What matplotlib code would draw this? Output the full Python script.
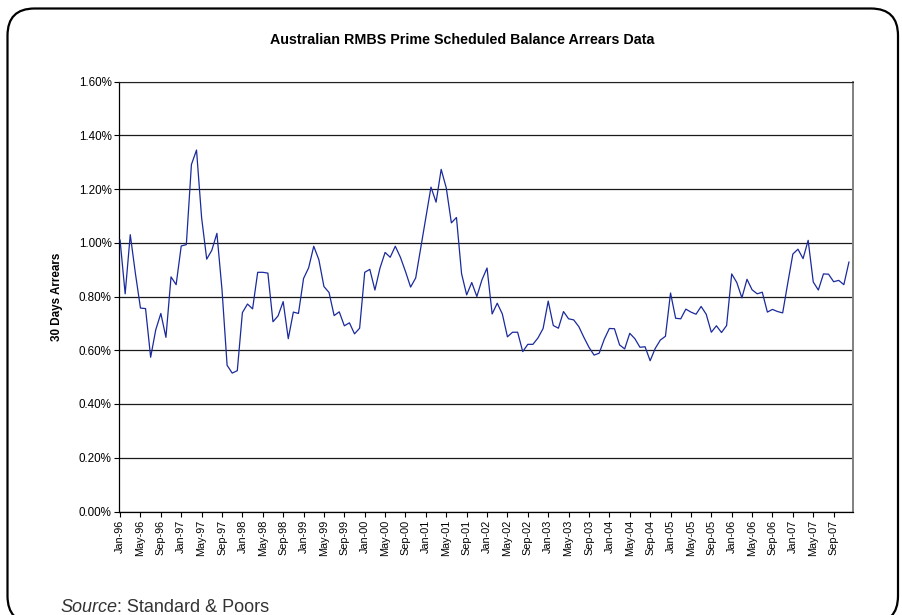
import matplotlib
matplotlib.use("Agg")
import matplotlib.pyplot as plt
from matplotlib.patches import FancyBboxPatch
from matplotlib.ticker import FuncFormatter

plt.rcParams['font.family'] = ['Liberation Sans', 'DejaVu Sans']

title = "Australian RMBS Prime Scheduled Balance Arrears Data"
y_label = "30 Days Arrears"
source_label = "Source"
source_rest = ": Standard & Poors"

# Monthly values Jan-96 .. Dec-07 (percent)
arrears = [
    1.010, 0.810, 1.030, 0.887, 0.757, 0.755, 0.574, 0.676, 0.737, 0.648, 0.873, 0.844,
    0.988, 0.993, 1.291, 1.345, 1.093, 0.939, 0.972, 1.035, 0.825, 0.544, 0.515, 0.524,
    0.740, 0.772, 0.754, 0.890, 0.890, 0.887, 0.706, 0.728, 0.781, 0.643, 0.742, 0.737,
    0.867, 0.907, 0.987, 0.937, 0.837, 0.815, 0.729, 0.743, 0.691, 0.702, 0.661, 0.682,
    0.890, 0.901, 0.824, 0.906, 0.964, 0.946, 0.987, 0.946, 0.893, 0.835, 0.869, 0.981,
    1.093, 1.207, 1.151, 1.273, 1.204, 1.074, 1.094, 0.885, 0.806, 0.852, 0.800, 0.862,
    0.906, 0.735, 0.775, 0.735, 0.650, 0.667, 0.667, 0.595, 0.622, 0.622, 0.646, 0.681,
    0.783, 0.692, 0.682, 0.744, 0.717, 0.713, 0.688, 0.648, 0.611, 0.582, 0.589, 0.641,
    0.681, 0.680, 0.620, 0.605, 0.663, 0.643, 0.611, 0.613, 0.561, 0.607, 0.638, 0.652,
    0.813, 0.719, 0.717, 0.753, 0.742, 0.734, 0.763, 0.734, 0.667, 0.691, 0.666, 0.692,
    0.884, 0.852, 0.795, 0.864, 0.825, 0.810, 0.816, 0.742, 0.752, 0.744, 0.739, 0.850,
    0.958, 0.976, 0.941, 1.009, 0.854, 0.824, 0.884, 0.883, 0.855, 0.860, 0.844, 0.928,
]

tick_labels = [
    "Jan-96", "May-96", "Sep-96", "Jan-97", "May-97", "Sep-97", "Jan-98", "May-98", "Sep-98",
    "Jan-99", "May-99", "Sep-99", "Jan-00", "May-00", "Sep-00", "Jan-01", "May-01", "Sep-01",
    "Jan-02", "May-02", "Sep-02", "Jan-03", "May-03", "Sep-03", "Jan-04", "May-04", "Sep-04",
    "Jan-05", "May-05", "Sep-05", "Jan-06", "May-06", "Sep-06", "Jan-07", "May-07", "Sep-07",
]
tick_step = 4
y_ticks = [0.0, 0.2, 0.4, 0.6, 0.8, 1.0, 1.2, 1.4, 1.6]

W, H = 902, 615
fig = plt.figure(figsize=(W / 100, H / 100), dpi=100)

# rounded outer frame
frame = FancyBboxPatch((7.5 / W, -8 / H), (898 - 7.5) / W, (H - 8.5 + 8) / H,
                       boxstyle="round,pad=0,rounding_size=0.03",
                       transform=fig.transFigure, fill=False, ec='black', lw=1.6,
                       mutation_aspect=W / H, clip_on=False)
fig.patches.append(frame)

left, right, top, bottom = 119.3, 852.5, 81.5, 511.5
ax = fig.add_axes([left / W, 1 - bottom / H, (right - left) / W, (bottom - top) / H])

x = list(range(len(arrears)))
ax.plot(x, arrears, color='#1a2a9c', lw=0.9, zorder=3)

ax.set_xlim(-0.15, 143.7)
ax.set_ylim(0, 1.6)
ax.set_yticks(y_ticks)
ax.yaxis.set_major_formatter(FuncFormatter(lambda v, p: f"{v:.2f}%"))
ax.set_xticks(list(range(0, len(tick_labels) * tick_step, tick_step)))
ax.set_xticklabels(tick_labels, rotation=90)

ax.grid(axis='y', color='#1a1a1a', lw=0.9)
ax.set_axisbelow(True)

for s in ['left', 'bottom']:
    ax.spines[s].set_color('black')
    ax.spines[s].set_linewidth(0.9)
ax.spines['top'].set_color('#222222')
ax.spines['top'].set_linewidth(0.8)
ax.spines['right'].set_color('#808080')
ax.spines['right'].set_linewidth(1.4)

ax.tick_params(axis='both', direction='out', length=3.5, width=0.8,
               colors='black', pad=2)
ax.tick_params(axis='y', labelsize=8.4)
ax.tick_params(axis='x', labelsize=7.8, pad=2.5)

ax.set_ylabel(y_label, fontsize=8.4, fontweight='bold')
ax.yaxis.set_label_coords((63 - left) / (right - left), 0.5)

fig.text(462 / W, 1 - 40 / H, title, ha='center', va='center', fontsize=10.3,
         fontweight='bold')

t1 = fig.text(60 / W, 1 - 612 / H, source_label, ha='left', va='baseline', fontsize=13,
              style='italic', color='#333333')
fig.canvas.draw()
ax.annotate(source_rest, xy=(1, 0), xycoords=t1, ha='left', va='bottom', fontsize=13,
            color='#333333', annotation_clip=False)

fig.savefig("out.png", dpi=100)
